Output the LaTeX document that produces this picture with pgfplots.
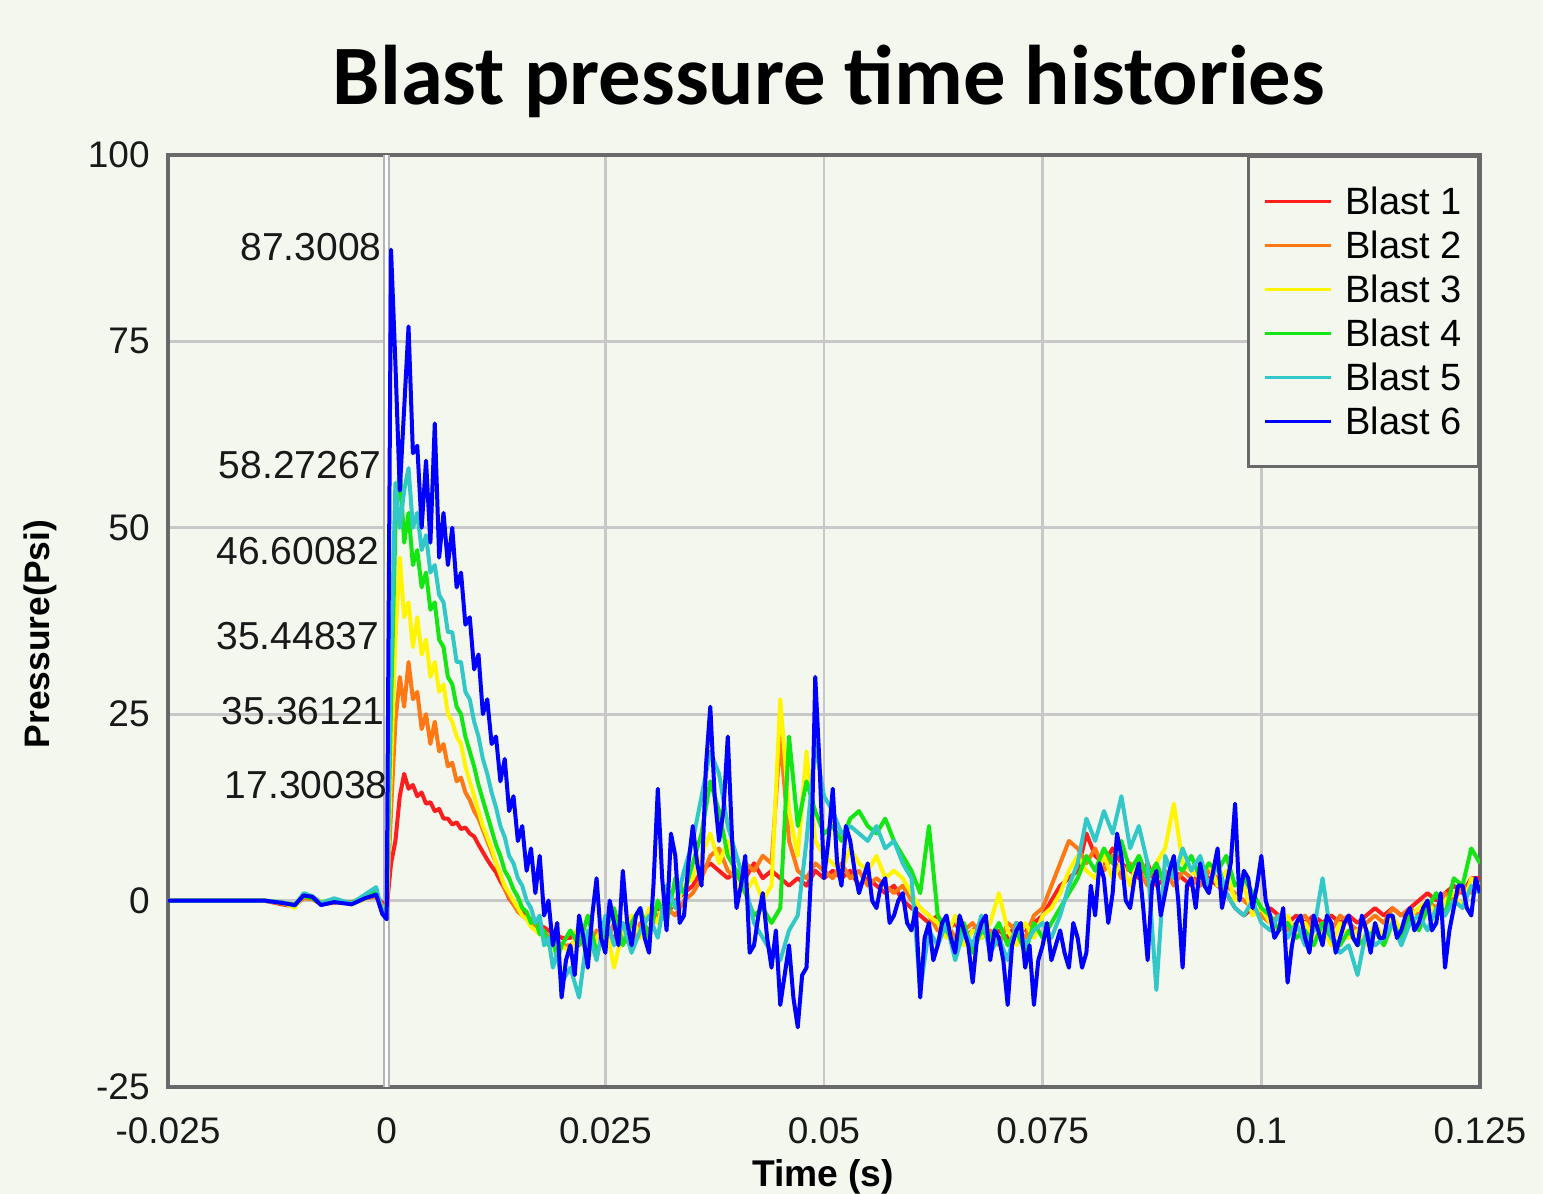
\documentclass[border=0pt]{standalone}
\usepackage{pgfplots}
\pgfplotsset{compat=1.18}
\usepackage{pgfplotstable}
\usepackage{fontspec}
\setmainfont{Liberation Sans}
\newfontfamily\carlito{Carlito}
\definecolor{bg}{RGB}{244,247,238}
\definecolor{frame}{RGB}{105,105,105}
\definecolor{gridc}{RGB}{200,200,200}
\definecolor{c1}{RGB}{255,30,30}
\definecolor{c2}{RGB}{255,120,20}
\definecolor{c3}{RGB}{255,245,0}
\definecolor{c4}{RGB}{20,230,20}
\definecolor{c5}{RGB}{50,200,200}
\definecolor{c6}{RGB}{0,0,255}
\pgfplotstableread{
t r o y g c
-0.0250 0 0 0 0 0
-0.0140 0 0 0 0 0
-0.0120 -0.5 -0.4 -0.2 -0.3 -0.2
-0.0105 -0.8 -0.6 -1.0 -0.5 -0.7
-0.0095 0.5 0.3 0.8 0.6 1.0
-0.0085 0.4 0.2 0.5 0.3 0.6
-0.0075 -0.3 -0.5 -0.2 -0.4 -0.3
-0.0060 0 -0.3 0.2 -0.1 0.3
-0.0040 -0.4 -0.2 -0.5 -0.3 -0.4
-0.0025 0.3 0.5 0.2 0.6 0.8
-0.0012 0.6 0.4 1.0 1.2 1.8
-0.0005 -0.3 -0.6 -1.0 -1.2 -1.5
0.0000 -1.0 -1.2 -1.5 -1.4 -1.2
0.0005 5 12 18 26 32
0.0010 8 24 35 50 56
0.0015 14 30 46 58.3 50
0.0020 17 26 38 48 55
0.0025 15 32 40 52 58
0.0030 15.5 27 34 45 50
0.0035 14 28 38 47 52
0.0040 14.5 23 33 42 47
0.0045 13 25 35 44 49
0.0050 13.2 21 30 39 44
0.0055 12 24 32 40 45
0.0060 12.3 20 28 35 41
0.0065 11 21 29 34 40
0.0070 11 18 25 30 36
0.0075 10.2 18.5 24 29 36
0.0080 10.5 16 22 26 32
0.0085 9.6 16.5 21 25 32
0.0090 9.8 14.5 18 22 28
0.0095 9 13.5 16 20 27
0.0100 8.6 12 14 18 24
0.0105 7.5 11 12 15.5 22
0.0110 6.5 9.5 10 13.5 19
0.0115 5.5 8 8.5 11.5 17
0.0120 4.6 6.5 7 9.5 14.5
0.0125 3.8 5 5 7.5 12.5
0.0130 2.6 3.5 3.5 6 10
0.0135 1.6 1.5 2 4 8.5
0.0140 0.3 0.5 1 3 6
0.0145 -0.5 -0.5 0 1.5 5
0.0150 -1 -1.5 -1 0.5 3
0.0155 -1.6 -2 -2 -1 2
0.0160 -2 -2.5 -2.5 -1.5 0
0.0165 -2.6 -3 -3.5 -3 -1
0.0170 -2.8 -3.4 -4 -2.5 -3
0.0175 -3.4 -4 -4.5 -4.5 -2
0.0180 -3.6 -4.2 -5 -4 -6
0.0185 -4 -4.8 -6 -6 -5
0.0190 -4.4 -5 -5.5 -5 -9
0.0195 -4.6 -5.5 -7 -8 -7
0.0200 -5 -6 -6 -6 -11
0.021 -5 -6 -7 -4 -9
0.022 -4 -5 -3 -6 -13
0.023 -6 -7 -8 -2 -4
0.024 -5 -4 -5 -7 -8
0.025 -4 -6 -3 -4 -2
0.026 -5 -3 -9 -1 -6
0.027 -4 -5 -4 -6 -3
0.028 -3 -6 -2 -3 -7
0.029 -4 -3 -5 -1 -4
0.030 -2 -4 -1 -5 -2
0.031 -1 -2 -3 0 -5
0.032 -2 -1 1 -3 2
0.033 0 -2 -1 3 -1
0.034 1 0 2 1 4
0.035 2 1 3 5 8
0.036 4 3 6 9 14
0.037 5 6 9 16 20
0.038 4 7 5 12 17
0.039 3 4 8 6 10
0.040 4 3 2 4 6
0.041 3 5 1 1 2
0.042 5 4 3 -2 -3
0.043 3 6 0 -1 -5
0.044 4 5 2 -3 -7
0.045 3 22 27 -1 -8
0.046 2 8 12 22 -4
0.047 3 4 6 10 -2
0.048 2 3 20 16 8
0.049 4 5 8 12 21
0.050 3 4 6 9 14
0.051 4 3 5 10 12
0.052 3 5 4 8 9
0.053 4 3 7 11 10
0.054 2 4 5 12 9
0.055 3 2 4 10 8
0.056 2 3 6 9 10
0.057 1 2 3 11 7
0.058 2 1 4 8 8
0.059 0 2 3 6 5
0.060 -1 0 1 4 3
0.061 -2 -1 -1 1 -12
0.062 -3 -2 -2 10 -4
0.063 -2 -4 -3 -2 -6
0.064 -4 -3 -5 -4 -3
0.065 -3 -5 -2 -6 -8
0.066 -5 -4 -6 -3 -4
0.067 -4 -3 -4 -7 -6
0.068 -3 -5 -5 -4 -2
0.069 -5 -4 -3 -5 -7
0.070 -4 -6 1 -3 -5
0.071 -5 -3 -4 -6 -8
0.072 -3 -4 -6 -4 -3
0.073 -4 -5 -3 -7 -6
0.074 -3 -2 -5 -3 -4
0.075 -2 -1 -2 -5 -3
0.076 0 2 -1 -3 -5
0.077 2 5 1 -1 -2
0.078 3 8 4 1 2
0.079 4 7 6 3 5
0.080 9 5 4 6 11
0.081 6 7 3 4 8
0.082 5 4 6 7 12
0.083 7 6 3 5 9
0.084 5 3 5 8 14
0.085 4 5 2 4 7
0.086 3 4 6 6 10
0.087 5 2 3 3 5
0.088 2 3 5 5 -12
0.089 3 4 7 2 6
0.090 4 2 13 5 3
0.091 3 4 5 4 7
0.092 2 3 4 6 4
0.093 4 2 3 3 6
0.094 3 4 5 5 2
0.095 2 3 2 4 5
0.096 1 2 4 6 1
0.097 -1 1 0 2 -1
0.098 -2 0 2 3 -2
0.099 -1 -1 -2 1 0
0.100 -2 -2 -1 -1 -3
0.101 -1 -3 -3 -2 -4
0.102 -2 -2 -4 -4 -2
0.103 -3 -4 -2 -3 -5
0.104 -2 -3 -5 -5 -3
0.105 -3 -2 -3 -4 -6
0.106 -2 -4 -5 -6 -4
0.107 -3 -3 -4 -3 3
0.108 -2 -4 -6 -5 -5
0.109 -3 -2 -3 -6 -7
0.110 -2 -3 -5 -4 -6
0.111 -3 -4 -4 -6 -10
0.112 -2 -3 -6 -5 -4
0.113 -1 -2 -3 -4 -6
0.114 -2 -3 -5 -6 -5
0.115 -1 -1 -2 -3 -3
0.116 -2 -2 -4 -5 -6
0.117 -1 -1 -2 -2 -3
0.118 0 -2 -1 -4 -2
0.119 1 0 0 -1 -4
0.120 0 -1 -2 1 -1
0.121 1 1 0 -2 -2
0.122 2 0 1 3 0
0.123 1 2 -1 2 -1
0.124 3 1 3 7 2
0.125 3 2 2 5 1
}\blast
\pgfplotstableread{
t b
-0.0250 0
-0.0140 0
-0.0120 -0.3
-0.0105 -0.6
-0.0095 0.7
-0.0085 0.5
-0.0075 -0.6
-0.0060 -0.2
-0.0040 -0.5
-0.0025 0.3
-0.0012 0.8
-0.0005 -1.8
0.0000 -2.5
0.0005 87.3
0.0010 72
0.0015 55
0.0020 66
0.0025 77
0.0030 60
0.0035 61
0.0040 50
0.0045 59
0.0050 48
0.0055 64
0.0060 46
0.0065 52
0.0070 45
0.0075 50
0.0080 42
0.0085 44
0.0090 37
0.0095 38
0.0100 31
0.0105 33
0.0110 25
0.0115 27
0.0120 21
0.0125 22
0.0130 16
0.0135 19
0.0140 12
0.0145 14
0.0150 8
0.0155 10
0.0160 4
0.0165 7
0.0170 1
0.0175 6
0.0180 -2
0.0185 0
0.0190 -6
0.0195 -3
0.0200 -13
0.0205 -8
0.0210 -6
0.0215 -10
0.0220 -2
0.0225 -5
0.0230 -9
0.0235 -2
0.0240 3
0.0245 -5
0.0250 -7
0.0255 0
0.0260 -3
0.0265 -6
0.0270 4
0.0275 -3
0.0280 -6
0.0285 -2
0.0290 -1
0.0295 -5
0.0300 -7
0.0305 2
0.0310 15
0.0315 3
0.0320 -4
0.0325 9
0.0330 6
0.0335 -3
0.0340 -2
0.0345 5
0.0350 10
0.0355 5
0.0360 2
0.0365 18
0.0370 26
0.0375 14
0.0380 8
0.0385 12
0.0390 22
0.0395 8
0.0400 -1
0.0405 2
0.0410 6
0.0415 -7
0.0420 -6
0.0425 -2
0.0430 1
0.0435 -5
0.0440 -9
0.0445 -4
0.0450 -14
0.0455 -10
0.0460 -6
0.0465 -13
0.0470 -17
0.0475 -10
0.0480 -9
0.0485 3
0.0490 30
0.0495 18
0.0500 3
0.0505 8
0.0510 15
0.0515 5
0.0520 2
0.0525 10
0.0530 8
0.0535 4
0.0540 1
0.0545 3
0.0550 5
0.0555 0
0.0560 -1
0.0565 2
0.0570 3
0.0575 -3
0.0580 -2
0.0585 0
0.0590 1
0.0595 -3
0.0600 -4
0.0605 -1
0.0610 -13
0.0615 -5
0.0620 -3
0.0625 -8
0.0630 -6
0.0635 -3
0.0640 -2
0.0645 -5
0.0650 -7
0.0655 -2
0.0660 -4
0.0665 -6
0.0670 -11
0.0675 -5
0.0680 -3
0.0685 -2
0.0690 -8
0.0695 -4
0.0700 -5
0.0705 -8
0.0710 -14
0.0715 -6
0.0720 -4
0.0725 -3
0.0730 -9
0.0735 -6
0.0740 -14
0.0745 -8
0.0750 -6
0.0755 -3
0.0760 -8
0.0765 -6
0.0770 -4
0.0775 -7
0.0780 -9
0.0785 -3
0.0790 -5
0.0795 -9
0.0800 -7
0.0805 2
0.0810 -2
0.0815 5
0.0820 3
0.0825 -3
0.0830 1
0.0835 9
0.0840 6
0.0845 0
0.0850 -1
0.0855 3
0.0860 5
0.0865 -1
0.0870 -8
0.0875 2
0.0880 4
0.0885 -2
0.0890 1
0.0895 4
0.0900 6
0.0905 0
0.0910 -9
0.0915 2
0.0920 3
0.0925 -1
0.0930 5
0.0935 2
0.0940 1
0.0945 4
0.0950 7
0.0955 -1
0.0960 2
0.0965 5
0.0970 13
0.0975 0
0.0980 4
0.0985 3
0.0990 -1
0.0995 2
0.1000 6
0.1005 0
0.1010 -2
0.1015 -5
0.1020 -4
0.1025 -1
0.1030 -11
0.1035 -6
0.1040 -3
0.1045 -2
0.1050 -5
0.1055 -7
0.1060 -2
0.1065 -4
0.1070 -6
0.1075 -2
0.1080 -3
0.1085 -7
0.1090 -5
0.1095 -3
0.1100 -2
0.1105 -5
0.1110 -6
0.1115 -2
0.1120 -4
0.1125 -7
0.1130 -3
0.1135 -5
0.1140 -5
0.1145 -2
0.1150 -2
0.1155 -5
0.1160 -4
0.1165 -2
0.1170 -1
0.1175 -4
0.1180 -3
0.1185 -1
0.1190 0
0.1195 -4
0.1200 -3
0.1205 1
0.1210 -9
0.1215 -4
0.1220 -1
0.1225 2
0.1230 2
0.1235 -1
0.1240 -2
0.1245 3
0.1250 1
}\blue
\begin{document}
\begin{tikzpicture}
\fill[bg] (0,0) rectangle (771.5pt,597pt);
\path[use as bounding box] (0,0) rectangle (771.5pt,597pt);
\node[anchor=base, font={\carlito\bfseries\fontsize{42.3}{50}\selectfont}] at (414.5pt,544.5pt) {Blast pressure time histories};
\node[rotate=90, font={\bfseries\fontsize{17.7}{20}\selectfont}] at (20pt,280pt) {Pressure(Psi)};
\node[anchor=base, font={\bfseries\fontsize{18.6}{20}\selectfont}] at (411.5pt,3.5pt) {Time (s)};
\begin{axis}[
  at={(84pt,53.5pt)}, anchor=south west,
  scale only axis, width=656pt, height=466pt,
  xmin=-0.025, xmax=0.125, ymin=-25, ymax=100,
  xtick={-0.025,0,0.025,0.05,0.075,0.1,0.125},
  xticklabels={-0.025,0,0.025,0.05,0.075,0.1,0.125},
  ytick={-25,0,25,50,75,100},
  yticklabels={-25,0,25,50,75,100},
  major tick length=0pt,
  tick label style={font=\fontsize{18.5}{20}\selectfont, text=black!90},
  xticklabel style={anchor=north, inner sep=0pt, yshift=-15pt},
  yticklabel style={anchor=east, inner sep=0pt, xshift=-9pt},
  grid=major,
  major grid style={draw=gridc, line width=1.4pt},
  axis line style={draw=frame, line width=1.6pt},
  legend cell align=left,
  legend image code/.code={\draw[#1, line width=1.5pt] (0pt,0pt) -- (33pt,0pt);},
  legend style={at={(1,1)}, anchor=north east, draw=frame, line width=1.6pt, fill=bg,
    font=\fontsize{19}{22}\selectfont, inner xsep=7.5pt, inner ysep=14pt,
    row sep=5pt, column sep=5.5pt,
    nodes={inner sep=1pt, text height=14pt, text depth=1pt}},
  every axis plot/.append style={line width=2pt, line join=round},
]
\addplot[draw=gridc!90!black, line width=3.6pt, forget plot] coordinates {(0,-25) (0,100)};
\addplot[draw=white, line width=1.6pt, forget plot] coordinates {(0,-25) (0,100)};
\addplot[c1] table[x=t,y=r] {\blast};
\addplot[c2] table[x=t,y=o] {\blast};
\addplot[c3] table[x=t,y=y] {\blast};
\addplot[c4] table[x=t,y=g] {\blast};
\addplot[c5] table[x=t,y=c] {\blast};
\addplot[c6] table[x=t,y=b] {\blue};
\legend{Blast 1,Blast 2,Blast 3,Blast 4,Blast 5,Blast 6}
\begin{scope}[every node/.style={anchor=east, inner sep=0pt, font=\fontsize{19.5}{22}\selectfont, text=black!90}]
\node at (axis cs:-0.00054,87.7) {87.3008};
\node at (axis cs:-0.00054,58.4) {58.27267};
\node at (axis cs:-0.0008,46.9) {46.60082};
\node at (axis cs:-0.0008,35.5) {35.44837};
\node at (axis cs:-0.0002,25.4) {35.36121};
\node at (axis cs:0.00015,15.5) {17.30038};
\end{scope}
\end{axis}
\end{tikzpicture}
\end{document}
